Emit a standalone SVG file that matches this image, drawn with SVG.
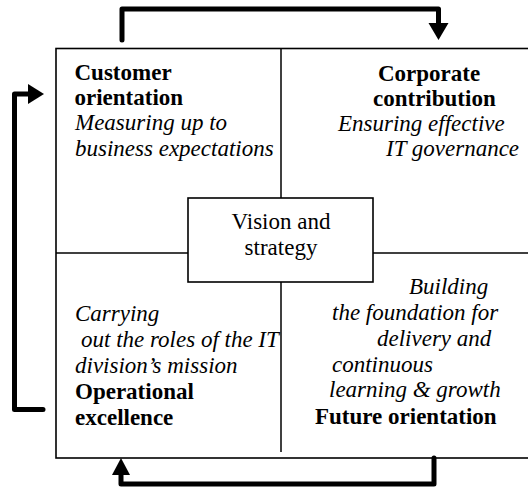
<svg xmlns="http://www.w3.org/2000/svg" width="528" height="491" viewBox="0 0 528 491">
<style>
text{font-family:"Liberation Serif","Times New Roman",serif;font-size:23px;fill:#000}
.b{font-weight:bold}
.i{font-style:italic}
.c{text-anchor:middle}
.frame{fill:none;stroke:#000;stroke-width:1.6}
.div{fill:none;stroke:#000;stroke-width:1.5}
.arr{fill:none;stroke:#000;stroke-width:5;stroke-linejoin:round;stroke-linecap:round}
.head{fill:#000;stroke:none}
</style>
<rect width="528" height="491" fill="#fff"/>
<g id="frame">
<rect class="frame" x="56" y="48.5" width="476" height="409.5"/>
<line class="div" x1="281" y1="48.5" x2="281" y2="198"/>
<line class="div" x1="281" y1="282" x2="281" y2="452"/>
<line class="div" x1="56" y1="253" x2="188" y2="253"/>
<line class="div" x1="373" y1="253" x2="530" y2="253"/>
</g>
<g id="customer">
<text class="b" x="74.5" y="80">Customer</text>
<text class="b" x="74.5" y="105">orientation</text>
<text class="i" x="75" y="130">Measuring up to</text>
<text class="i" x="75" y="155.5">business expectations</text>
</g>
<g id="corporate">
<text class="b" x="378" y="80.5">Corporate</text>
<text class="b" x="373" y="105.5">contribution</text>
<text class="i" x="338" y="131">Ensuring effective</text>
<text class="i" x="386" y="156">IT governance</text>
</g>
<g id="vision">
<rect class="frame" x="188" y="198" width="185" height="84" fill="#fff"/>
<text class="c" x="281" y="228.5">Vision and</text>
<text class="c" x="281" y="255">strategy</text>
</g>
<g id="operational">
<text class="i" x="75" y="321">Carrying</text>
<text class="i" x="81" y="347">out the roles of the IT</text>
<text class="i" x="75" y="373">division’s mission</text>
<text class="b" x="75" y="399">Operational</text>
<text class="b" x="75" y="425">excellence</text>
</g>
<g id="future">
<text class="i" x="409" y="294">Building</text>
<text class="i" x="332" y="320">the foundation for</text>
<text class="i" x="377" y="346">delivery and</text>
<text class="i" x="332" y="371.5">continuous</text>
<text class="i" x="329" y="397">learning &amp; growth</text>
<text class="b" x="315" y="424">Future orientation</text>
</g>
<g id="connectors">
<path class="arr" d="M122,40 L122,9 L438.5,9 L438.5,24"/>
<polygon class="head" points="428.5,23 448.5,23 438.5,40"/>
<path class="arr" d="M434,458 L434,484 L121,484 L121,474"/>
<polygon class="head" points="112,475 130,475 121,458"/>
<path class="arr" d="M43,409.5 L14.5,409.5 L14.5,94 L29,94"/>
<polygon class="head" points="28,84 28,104 44,94"/>
</g>
</svg>
